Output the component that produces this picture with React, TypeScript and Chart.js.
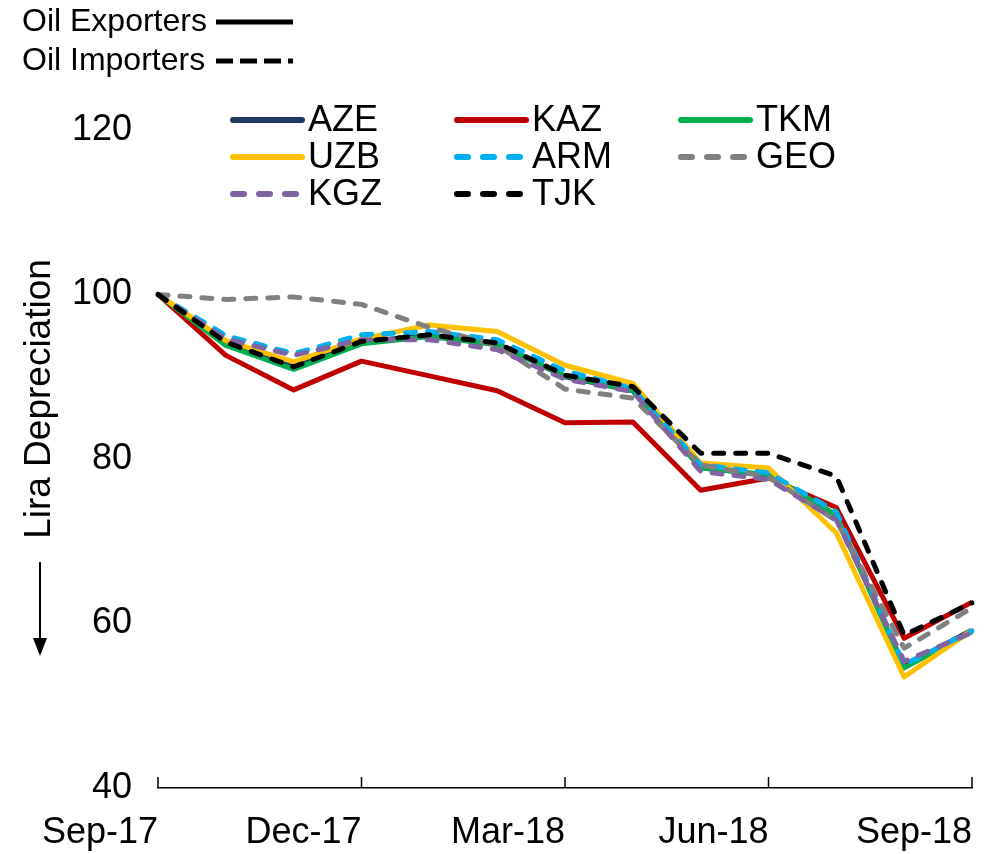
import React, { useEffect, useRef } from "react";
import { Chart, registerables } from "chart.js";

Chart.register(...registerables);

const categories = [
  "Sep-17", "Oct-17", "Nov-17", "Dec-17", "Jan-18", "Feb-18", "Mar-18",
  "Apr-18", "May-18", "Jun-18", "Jul-18", "Aug-18", "Sep-18",
];

const AZE = [100, 94.0, 91.2, 94.3, 95.0, 94.0, 90.0, 88.3, 79.0, 78.0, 73.0, 54.8, 59.2];
const KAZ = [100, 92.6, 88.4, 91.9, 90.1, 88.3, 84.4, 84.5, 76.2, 77.7, 74.1, 58.2, 62.6];
const TKM = [100, 93.8, 90.9, 94.0, 94.9, 93.9, 90.1, 88.3, 78.9, 78.1, 73.2, 54.6, 59.0];
const UZB = [100, 94.4, 91.8, 94.6, 96.3, 95.5, 91.4, 89.2, 79.5, 78.9, 71.0, 53.5, 59.2];
const ARM = [100, 95.0, 92.8, 95.1, 95.5, 94.5, 90.7, 88.6, 79.3, 78.3, 73.6, 55.0, 59.1];
const GEO = [100, 99.4, 99.7, 98.8, 96.0, 93.8, 88.5, 87.4, 79.3, 77.8, 72.5, 57.0, 61.9];
const KGZ = [100, 94.6, 92.6, 94.5, 94.5, 93.3, 89.7, 88.2, 78.5, 77.5, 72.6, 55.4, 58.9];
const TJK = [100, 94.2, 91.2, 94.3, 95.1, 94.1, 90.2, 88.8, 80.7, 80.7, 77.9, 58.6, 62.5];

const seriesNames = ["AZE", "KAZ", "TKM", "UZB", "ARM", "GEO", "KGZ", "TJK"];
const seriesValues = [AZE, KAZ, TKM, UZB, ARM, GEO, KGZ, TJK];
const seriesColors = ["#1F3864", "#C00000", "#00B050", "#FFC000", "#00B0F0", "#808080", "#8064A2", "#000000"];
const seriesDashed = [false, false, false, false, true, true, true, true];

const xTickLabels = ["Sep-17", "Dec-17", "Mar-18", "Jun-18", "Sep-18"];
const yTicks = [40, 60, 80, 100, 120];

const groupLegend = [
  { label: "Oil Exporters", dashed: false },
  { label: "Oil Importers", dashed: true },
];

const FONT = "'Liberation Sans', Arial, sans-serif";

const decorPlugin = {
  id: "decor",
  afterDraw(chart: any) {
    const ctx = chart.ctx as CanvasRenderingContext2D;
    const x = chart.scales.x;
    ctx.save();

    // upward ticks at labelled categories
    ctx.strokeStyle = "#000";
    ctx.lineWidth = 1.5;
    categories.forEach((c, i) => {
      if (xTickLabels.includes(c)) {
        const px = x.getPixelForValue(i);
        ctx.beginPath();
        ctx.moveTo(px, x.top);
        ctx.lineTo(px, x.top - 11);
        ctx.stroke();
      }
    });

    // group legend (top-left)
    ctx.fillStyle = "#000";
    ctx.font = `32px ${FONT}`;
    ctx.textBaseline = "middle";
    ctx.textAlign = "left";
    groupLegend.forEach((g, r) => {
      const y = 22 + r * 39;
      ctx.fillText(g.label, 22, y);
      ctx.lineWidth = 5;
      ctx.lineCap = "butt";
      ctx.setLineDash(g.dashed ? [17, 7] : []);
      ctx.beginPath();
      ctx.moveTo(216, y);
      ctx.lineTo(293, y);
      ctx.stroke();
    });
    ctx.setLineDash([]);

    // series legend (3 columns)
    const ds = chart.data.datasets;
    ctx.font = `36px ${FONT}`;
    ds.forEach((d: any, i: number) => {
      const col = i % 3;
      const row = Math.floor(i / 3);
      const lx = 230 + col * 224;
      const ly = 120 + row * 37;
      ctx.strokeStyle = d.borderColor;
      ctx.lineWidth = 6;
      ctx.lineCap = "round";
      ctx.setLineDash(seriesDashed[i] ? [11, 15] : []);
      ctx.beginPath();
      ctx.moveTo(lx + 3, ly);
      ctx.lineTo(lx + 72, ly);
      ctx.stroke();
      ctx.setLineDash([]);
      ctx.fillStyle = "#000";
      ctx.fillText(d.label, lx + 78, ly + 1);
    });

    // y-axis title
    ctx.save();
    ctx.translate(40, 399);
    ctx.rotate(-Math.PI / 2);
    ctx.textAlign = "center";
    ctx.textBaseline = "middle";
    ctx.font = `37px ${FONT}`;
    ctx.fillStyle = "#000";
    ctx.fillText("Lira Depreciation", 0, 0);
    ctx.restore();

    // arrow
    ctx.strokeStyle = "#000";
    ctx.lineWidth = 2;
    ctx.lineCap = "butt";
    ctx.beginPath();
    ctx.moveTo(40, 562);
    ctx.lineTo(40, 642);
    ctx.stroke();
    ctx.fillStyle = "#000";
    ctx.beginPath();
    ctx.moveTo(33, 638);
    ctx.lineTo(47, 638);
    ctx.lineTo(40, 656);
    ctx.closePath();
    ctx.fill();

    ctx.restore();
  },
};

export default function App() {
  const ref = useRef<HTMLCanvasElement>(null);
  useEffect(() => {
    document.body.style.margin = "0";
    const n = seriesNames.length;
    const chart = new Chart(ref.current!, {
      type: "line",
      data: {
        labels: categories,
        datasets: seriesNames.map((name, i) => ({
          label: name,
          data: seriesValues[i],
          borderColor: seriesColors[i],
          backgroundColor: seriesColors[i],
          borderWidth: 5,
          borderDash: seriesDashed[i] ? [10, 12] : [],
          borderCapStyle: seriesDashed[i] ? "round" : "butt",
          borderJoinStyle: "round",
          pointRadius: 0,
          tension: 0,
          fill: false,
          order: n - 1 - i,
        })),
      },
      options: {
        responsive: false,
        animation: false,
        layout: { padding: { left: 0, right: 20, top: 130, bottom: 0 } },
        plugins: { legend: { display: false }, tooltip: { enabled: false } },
        scales: {
          x: {
            type: "category",
            offset: false,
            grid: { display: false, drawTicks: false },
            border: { display: true, color: "#000", width: 1.5 },
            afterFit: (s: any) => { s.height = 66; },
            ticks: {
              autoSkip: false,
              maxRotation: 0,
              minRotation: 0,
              align: "end",
              padding: 20,
              color: "#000",
              font: { family: FONT, size: 36, lineHeight: 1.42 },
              callback: (_v: any, i: number) =>
                xTickLabels.includes(categories[i]) ? categories[i] : "",
            },
          },
          y: {
            min: yTicks[0],
            max: yTicks[yTicks.length - 1],
            grid: { display: false, drawTicks: false },
            border: { display: false },
            afterFit: (s: any) => { s.width = 158; },
            afterBuildTicks: (s: any) => { s.ticks = yTicks.map((v) => ({ value: v })); },
            ticks: {
              padding: 26,
              color: "#000",
              font: { family: FONT, size: 36 },
            },
          },
        },
      },
      plugins: [decorPlugin],
    } as any);
    return () => chart.destroy();
  }, []);
  return (
    <div style={{ width: 992, height: 854 }}>
      <canvas ref={ref} width={992} height={854} />
    </div>
  );
}
